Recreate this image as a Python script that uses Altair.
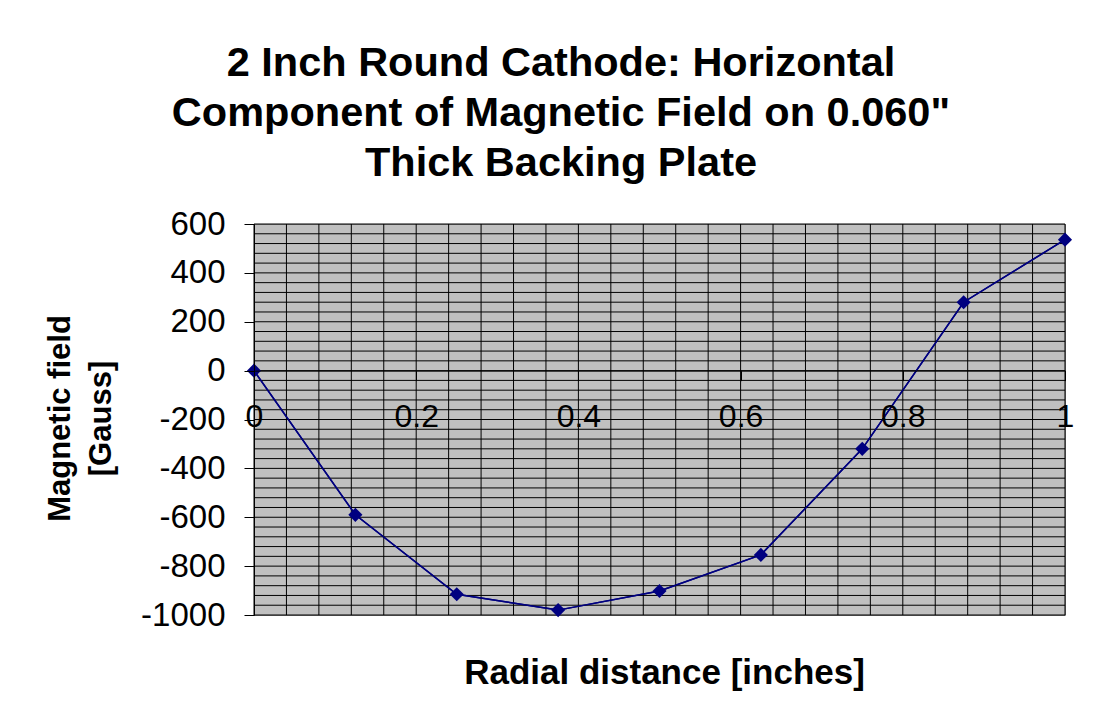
import altair as alt
import pandas as pd

# ---- data ----
radial = [0, 0.125, 0.25, 0.375, 0.5, 0.625, 0.75, 0.875, 1.0]
field = [0, -590, -915, -980, -902, -754, -320, 280, 536]

x_ticks = [0, 0.2, 0.4, 0.6, 0.8, 1]
y_ticks = [-1000, -800, -600, -400, -200, 0, 200, 400, 600]
x_grid = [round(i * 0.04, 2) for i in range(26)]
y_grid = list(range(-1000, 601, 40))

title_lines = ["2 Inch Round Cathode: Horizontal",
               "Component of Magnetic Field on 0.060\"",
               "Thick Backing Plate"]
y_title = ["Magnetic field", "[Gauss]"]
x_title = "Radial distance [inches]"

# ---- layout ----
F = "Liberation Sans"
W, H = 811, 391
YMIN, YMAX = -1000, 600
NAVY = "#000080"

xs = alt.Scale(domain=[0, 1], nice=False, zero=False)
ys = alt.Scale(domain=[YMIN, YMAX], nice=False, zero=False)
x_axis_offset = -H * (0 - YMIN) / (YMAX - YMIN)

df = pd.DataFrame({"r": radial, "b": field})

x_axis = alt.Axis(
    values=x_ticks, labelExpr="toString(datum.value)", orient="bottom",
    offset=x_axis_offset, domain=True, domainColor="black", domainWidth=1,
    ticks=True, tickColor="black", tickSize=10, tickWidth=1,
    labelFont=F, labelFontSize=32, labelColor="black", labelPadding=21,
    labelFlush=False, labelOverlap=False, grid=False, zindex=1,
    title=x_title, titleFont=F, titleFontSize=35, titleFontWeight="bold",
    titleColor="black", titleX=410, titleY=313, titleAlign="center",
    titleBaseline="alphabetic",
)

y_axis = alt.Axis(
    values=y_ticks, labelExpr="toString(datum.value)", orient="left",
    domain=True, domainColor="black", domainWidth=1,
    ticks=True, tickColor="black", tickSize=10, tickWidth=1,
    labelFont=F, labelFontSize=33, labelColor="black", labelPadding=19,
    labelFlush=False, labelOverlap=False, grid=False, zindex=1,
    title=y_title, titleFont=F, titleFontSize=31, titleFontWeight="bold",
    titleColor="black", titleAngle=270, titleX=-185, titleY=194,
    titleAlign="center", titleBaseline="alphabetic", titleLineHeight=41,
)

line = alt.Chart(df).mark_line(color=NAVY, strokeWidth=1.5).encode(
    x=alt.X("r:Q", scale=xs, axis=x_axis),
    y=alt.Y("b:Q", scale=ys, axis=y_axis),
)

pts = alt.Chart(df).mark_point(
    shape="diamond", filled=True, size=200, color=NAVY, opacity=1
).encode(
    x=alt.X("r:Q", scale=xs, axis=x_axis),
    y=alt.Y("b:Q", scale=ys, axis=y_axis),
)

hgrid = alt.Chart(pd.DataFrame({"g": y_grid})).mark_rule(
    color="black", strokeWidth=1
).encode(y=alt.Y("g:Q", scale=ys, axis=y_axis))

vgrid = alt.Chart(pd.DataFrame({"g": x_grid})).mark_rule(
    color="black", strokeWidth=1
).encode(x=alt.X("g:Q", scale=xs, axis=x_axis))

chart = alt.layer(line, hgrid, vgrid, line, pts).properties(
    width=W, height=H,
    background="white",
    autosize=alt.AutoSizeParams(type="none"),
    padding={"left": 246, "top": 216, "right": 30, "bottom": 100},
    title=alt.Title(
        title_lines, font=F, fontSize=41.5, fontWeight="bold", color="black",
        lineHeight=50, anchor="middle", frame="group", dx=-98.5, dy=39,
        offset=30, baseline="alphabetic",
    ),
).configure_view(
    fill="#c0c0c0", stroke="#808080", strokeWidth=1
)

chart.save("out.html", embed_options={"renderer": "svg", "actions": False})
